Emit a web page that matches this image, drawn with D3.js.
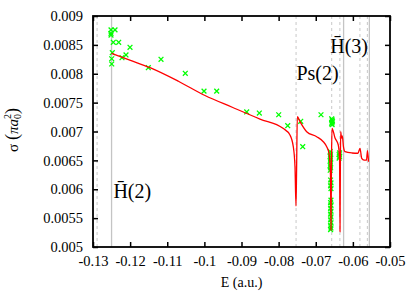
<!DOCTYPE html>
<html><head><meta charset="utf-8">
<script src="https://cdn.jsdelivr.net/npm/d3@7"></script>
<style>body{margin:0;background:#fff} svg{display:block} svg text{font-family:'Liberation Serif','DejaVu Serif',serif;}</style>
</head><body><svg id="c" width="415" height="291"></svg>
<script>
const xTicks = [-0.13,-0.12,-0.11,-0.1,-0.09,-0.08,-0.07,-0.06,-0.05];
const xTickLabels = ["-0.13","-0.12","-0.11","-0.1","-0.09","-0.08","-0.07","-0.06","-0.05"];
const yTicks = [0.005,0.0055,0.006,0.0065,0.007,0.0075,0.008,0.0085,0.009];
const yTickLabels = ["0.005","0.0055","0.006","0.0065","0.007","0.0075","0.008","0.0085","0.009"];
const thresholdsSolid = [-0.125,-0.0625,-0.05556];
const thresholdsDashed = [-0.1289,-0.0753,-0.0657,-0.0635,-0.0581,-0.0561];

const curveE = [-0.125,-0.1199,-0.11465,-0.107,-0.09983,-0.0925,-0.08502,-0.07882,-0.07694,-0.07605,-0.07559,-0.07532,-0.07516,-0.07497,-0.07424,-0.07244,-0.06974,-0.06797,-0.06705,-0.06643,-0.06603,-0.06589,-0.06576,-0.06562,-0.06481,-0.06393,-0.06358,-0.06347,-0.06336,-0.06328,-0.06307,-0.06285,-0.06253,-0.06212,-0.06024,-0.05862,-0.05808,-0.05762,-0.057,-0.05633,-0.05606,-0.05579];
const curveSigma = [0.008354,0.008231,0.008105,0.00787,0.007623,0.00742,0.007216,0.007055,0.006939,0.006737,0.00639,0.00571,0.006333,0.007256,0.00717,0.006997,0.00691,0.006823,0.006737,0.006623,0.006247,0.005294,0.006506,0.007055,0.006887,0.006766,0.006506,0.005265,0.006506,0.006997,0.006887,0.006922,0.006732,0.00665,0.006628,0.006623,0.006709,0.006536,0.006506,0.006506,0.006668,0.006477];

const pointsE = [-0.12515,-0.12515,-0.12515,-0.12407,-0.12453,-0.12308,-0.12003,-0.1248,-0.12496,-0.12496,-0.12219,-0.12111,-0.1151,-0.11168,-0.10514,-0.1001,-0.09668,-0.0886,-0.0852,-0.07998,-0.07755,-0.07405,-0.07351,-0.06859,
 -0.0657,-0.0656,-0.0655,-0.0656,-0.0657,-0.0656,
 -0.0661,-0.0660,-0.0661,-0.0660,-0.0661,-0.0660,-0.0661,-0.0660,-0.0661,
 -0.0660,-0.0659,-0.0660,-0.0659,
 -0.0659,-0.0660,-0.0659,-0.0660,-0.0659,-0.0660,-0.0659,-0.0660,-0.0659,-0.0660,-0.0659,-0.0660,
 -0.0636,-0.0637,-0.0636,-0.0637];
const pointsSigma = [0.00876,0.0087,0.00867,0.00876,0.008545,0.008545,0.008458,0.008364,0.00826,0.008169,0.008278,0.008325,0.008105,0.00825,0.008008,0.0077,0.0077,0.007338,0.00732,0.00729,0.0071,0.007177,0.006737,0.00729,
 0.00722,0.0072,0.00718,0.00716,0.00714,0.00712,
 0.00665,0.00661,0.00657,0.00653,0.00649,0.00645,0.00641,0.00637,0.00633,
 0.00616,0.00611,0.00606,0.00601,
 0.00581,0.00577,0.00572,0.00567,0.00562,0.00557,0.00552,0.00547,0.00542,0.00537,0.00533,0.0053,
 0.00663,0.0066,0.00657,0.00654];

const svg = d3.select("#c");
const L=93, R=390, T=16, B=247;
const x = d3.scaleLinear().domain([-0.13,-0.05]).range([L,R]);
const y = d3.scaleLinear().domain([0.005,0.009]).range([B,T]);
const serif = "'Liberation Serif','DejaVu Serif',serif";

// threshold lines
svg.append("g").selectAll("line").data(thresholdsDashed).join("line")
  .attr("x1",d=>x(d)).attr("x2",d=>x(d)).attr("y1",T).attr("y2",B)
  .attr("stroke","#c8c8c8").attr("stroke-width",1).attr("stroke-dasharray","3,3");
svg.append("g").selectAll("line").data(thresholdsSolid).join("line")
  .attr("x1",d=>x(d)).attr("x2",d=>x(d)).attr("y1",T).attr("y2",B)
  .attr("stroke","#c4c4c4").attr("stroke-width",1.3);

// points
const pts = pointsE.map((e,i)=>[e,pointsSigma[i]]);
const s=2.4;
svg.append("g").selectAll("path").data(pts).join("path")
  .attr("d",d=>{const px=x(d[0]), py=y(d[1]);
    return `M${px-s},${py-s}L${px+s},${py+s}M${px-s},${py+s}L${px+s},${py-s}`;})
  .attr("stroke","#00ff00").attr("stroke-width",1.3).attr("fill","none");

// curve
const cd = curveE.map((e,i)=>[e,curveSigma[i]]);
svg.append("path").datum(cd)
  .attr("d", d3.line().x(d=>x(d[0])).y(d=>y(d[1])).curve(d3.curveMonotoneX))
  .attr("fill","none").attr("stroke","#ff0000").attr("stroke-width",1.3);

// axes
function style(g){
  g.attr("font-family",null).attr("font-size",null);
  g.selectAll(".domain").remove();
  g.selectAll(".tick line").attr("stroke","#000").attr("stroke-width",1.5);
  g.selectAll("text").style("font-family",serif).style("font-size","14.5px").attr("fill","#000");
}
svg.append("g").attr("transform",`translate(0,${B})`)
  .call(d3.axisBottom(x).tickValues(xTicks).tickFormat((d,i)=>xTickLabels[i]).tickSize(-5).tickPadding(9)).call(style);
svg.append("g").attr("transform",`translate(${L},0)`)
  .call(d3.axisLeft(y).tickValues(yTicks).tickFormat((d,i)=>yTickLabels[i]).tickSize(-5).tickPadding(10)).call(style);
svg.append("g").attr("transform",`translate(0,${T})`)
  .call(d3.axisTop(x).tickValues(xTicks).tickFormat("").tickSize(-5)).call(style);
svg.append("g").attr("transform",`translate(${R},0)`)
  .call(d3.axisRight(y).tickValues(yTicks).tickFormat("").tickSize(-5)).call(style);

svg.append("rect").attr("x",L).attr("y",T).attr("width",R-L).attr("height",B-T)
  .attr("fill","none").attr("stroke","#000").attr("stroke-width",1.8);

// axis titles
svg.append("text").attr("x",(L+R)/2).attr("y",287).attr("text-anchor","middle")
  .style("font-family",serif).style("font-size","14px").text("E (a.u.)");
const yl = svg.append("text").attr("transform","translate(18,130) rotate(-90)")
  .attr("text-anchor","middle").style("font-family",serif).style("font-size","15px");
yl.append("tspan").text("σ ");
yl.append("tspan").style("font-size","18px").text("(");
yl.append("tspan").style("font-style","italic").text("πa");
yl.append("tspan").style("font-size","10px").attr("dy",3).text("0");
yl.append("tspan").style("font-size","10px").attr("dx",-5).attr("dy",-10).text("2");
yl.append("tspan").style("font-size","18px").attr("dy",7).text(")");

// annotations
const ann = [["H\u0304(2)",-0.1245,198],["Ps(2)",-0.0752,80],["H\u0304(3)",-0.0661,53]];
svg.append("g").selectAll("text").data(ann).join("text")
  .attr("x",d=>x(d[1])).attr("y",d=>d[2]).style("font-family",serif).style("font-size","20px")
  .text(d=>d[0]);
</script></body></html>
